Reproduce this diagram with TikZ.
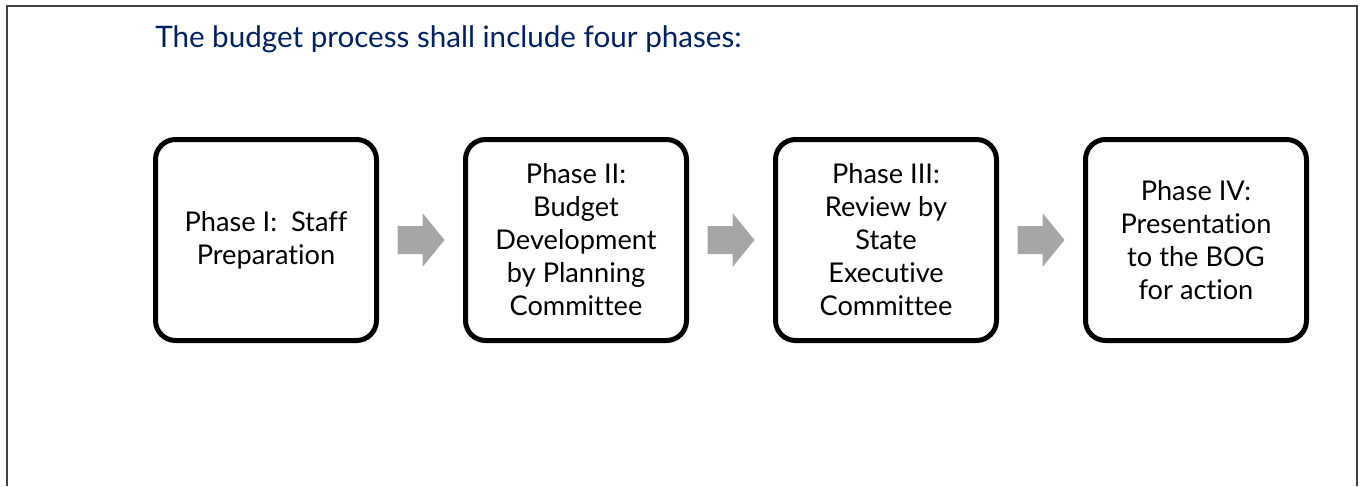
\documentclass[tikz,border=0pt]{standalone}
\usepackage{fontspec}
\setmainfont[Ligatures=NoCommon]{Lato}
\usetikzlibrary{calc}
\definecolor{titlenavy}{RGB}{0,32,96}
\definecolor{arrowgray}{RGB}{166,166,166}
\definecolor{framegray}{RGB}{64,64,64}
\tikzset{
  phasebox/.style={draw=black, line width=3.75pt, rounded corners=15pt,
    minimum width=165.75pt, minimum height=150.75pt, align=center,
    inner sep=0pt, font=\fontsize{20.4}{24.75}\selectfont},
  blockarrow/.pic={\fill[arrowgray] (-23.5,-14) -- (1.5,-14) -- (1.5,-27)
    -- (23.5,0) -- (1.5,27) -- (1.5,14) -- (-23.5,14) -- cycle;}
}

\begin{document}
\begin{tikzpicture}[x=0.75pt, y=-0.75pt]
		%%%%% START %%%%%
		\useasboundingbox (0, 0) rectangle (1365, 486);
		
		\draw[line width=1.5pt, color=framegray] (7, 486) -- (7, 6) -- (1357, 6) -- (1357, 486);
		
		\node[anchor=base west, inner sep=0pt, text=titlenavy, font=\fontsize{22.2}{26}\selectfont] (title) at (155, 47) {The budget process shall include four phases:};
		
		\node[phasebox] (p1) at (266, 240) {Phase I:\ \ Staff\\Preparation};
		\node[phasebox] (p2) at (576, 240) {Phase II:\\Budget\\Development\\by Planning\\Committee};
		\node[phasebox] (p3) at (886, 240) {Phase III:\\Review by\\State\\Executive\\Committee};
		\node[phasebox] (p4) at (1196, 240) {Phase IV:\\Presentation\\to the BOG\\for action};
		
		\pic at ($(p1.east)!0.5!(p2.west)$) {blockarrow};
		\pic at ($(p2.east)!0.5!(p3.west)$) {blockarrow};
		\pic at ($(p3.east)!0.5!(p4.west)$) {blockarrow};
		
		%%%%% END %%%%%
\end{tikzpicture}
\end{document}
